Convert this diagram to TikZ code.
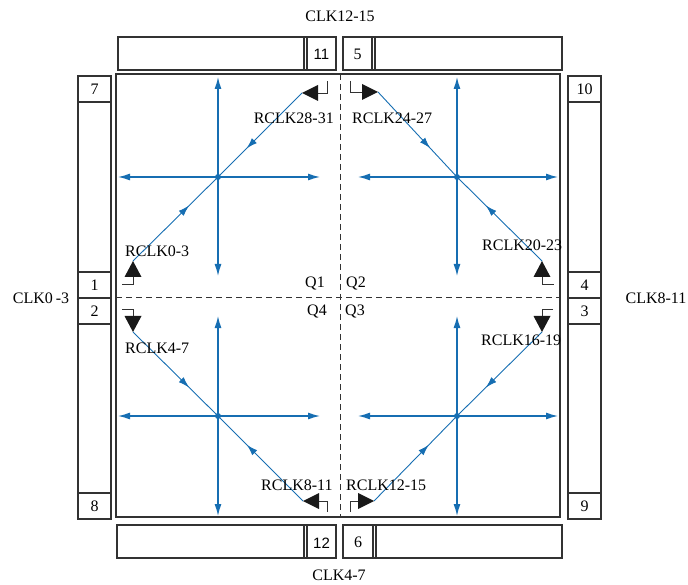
\documentclass[tikz,border=0pt]{standalone}
\usepackage{fontspec}
\setmainfont{Liberation Serif}
\newfontfamily\cellsans{Liberation Sans}
\usetikzlibrary{arrows.meta,decorations.markings}
\definecolor{clkblue}{RGB}{22,110,178}
\definecolor{framegray}{RGB}{50,50,50}
\tikzset{
  frame/.style={draw=framegray,line width=1.1pt},
  thinframe/.style={draw=framegray,line width=0.8pt},
  midline/.style={draw=framegray,line width=1pt,dash pattern=on 6pt off 4pt},
  crossline/.style={draw=clkblue,line width=1.3pt,-{Latex[length=12pt,width=7pt]}},
  diagline/.style={draw=clkblue,line width=0.9pt,
    postaction={decorate},
    decoration={markings,mark=at position 0.66 with {\arrow{Latex[length=11pt,width=7pt]}}}},
  srctri/.style={fill=black!90},
  bracket/.style={draw=framegray,line width=0.9pt},
  lbl/.style={inner sep=0pt,font=\fontsize{16}{18}\selectfont},
  numlbl/.style={inner sep=0pt,font=\fontsize{16}{18}\selectfont},
  sanslbl/.style={inner sep=0pt,font=\cellsans\fontsize{15}{18}\selectfont},
  hub/.style={circle,fill=clkblue,inner sep=0pt,minimum size=6pt}
}
\begin{document}
\begin{tikzpicture}[x=1pt,y=-1pt]
\useasboundingbox (0,0) rectangle (688,585);

% main region
\draw[frame] (116,74) rectangle (560,517);

% left and right columns
\draw[frame] (78,76) rectangle (111,519);
\foreach \yy in {102,272,298,324,493} \draw[frame] (78,\yy) -- (111,\yy);
\draw[frame] (568,76) rectangle (601,519);
\foreach \yy in {102,272,298,324,493} \draw[frame] (568,\yy) -- (601,\yy);

\node[numlbl] (n7) at (94.5,89) {7};
\node[numlbl] (n1) at (94.5,285) {1};
\node[numlbl] (n2) at (94.5,311) {2};
\node[numlbl] (n8) at (94.5,506) {8};
\node[numlbl] (n10) at (584.5,89) {10};
\node[numlbl] (n4) at (584.5,285) {4};
\node[numlbl] (n3) at (584.5,311) {3};
\node[numlbl] (n9) at (584.5,506) {9};

% top bars
\draw[frame] (118,37) rectangle (336,70);
\draw[frame] (304,37) -- (304,70);
\draw[frame] (307,37) -- (307,70);
\node[sanslbl] (n11) at (321.5,54) {11};
\draw[frame] (343,37) rectangle (562,70);
\draw[frame] (372,37) -- (372,70);
\draw[frame] (375,37) -- (375,70);
\node[numlbl] (n5) at (357.5,54) {5};

% bottom bars
\draw[frame] (117,525) rectangle (336,558);
\draw[frame] (304,525) -- (304,558);
\draw[frame] (307,525) -- (307,558);
\node[sanslbl] (n12) at (321.5,543) {12};
\draw[frame] (343,525) rectangle (562,558);
\draw[frame] (373,525) -- (373,558);
\draw[frame] (376,525) -- (376,558);
\node[numlbl] (n6) at (358,542) {6};

% dashed quadrant dividers
\draw[midline] (340,74) -- (340,517);
\draw[midline] (116,298) -- (560,298);

% quadrant labels
\node[lbl] (q1) at (315,284) {Q1};
\node[lbl] (q2) at (356,284) {Q2};
\node[lbl] (q4) at (317,312) {Q4};
\node[lbl] (q3) at (355,312) {Q3};

% outer clock labels
\node[lbl] (clktop) at (340,16) {CLK12-15};
\node[lbl] (clkbot) at (339,575) {CLK4-7};
\node[lbl] (clkleft) at (41,298) {CLK0\kern3pt-3};
\node[lbl] (clkright) at (656,298) {CLK8-11};

% hubs
\coordinate (h1) at (218,177);
\coordinate (h2) at (457,177);
\coordinate (h4) at (218,416);
\coordinate (h3) at (457,416);

% cross ends
\coordinate (h1l) at (118,177); \coordinate (h1r) at (320,177);
\coordinate (h1t) at (218,77);  \coordinate (h1b) at (218,276);
\coordinate (h2l) at (358,177); \coordinate (h2r) at (558,177);
\coordinate (h2t) at (457,77);  \coordinate (h2b) at (457,276);
\coordinate (h4l) at (118,416); \coordinate (h4r) at (320,416);
\coordinate (h4t) at (218,316); \coordinate (h4b) at (218,516);
\coordinate (h3l) at (358,416); \coordinate (h3r) at (558,416);
\coordinate (h3t) at (457,316); \coordinate (h3b) at (457,516);

\foreach \q in {1,2,3,4}{
  \foreach \e in {l,r,t,b}{
    \draw[crossline] (h\q) -- (h\q\e);
  }
}

% clock source triangles (tips named)
\coordinate (s28) at (302,93);
\fill[srctri] (s28) -- (318,85) -- (318,101) -- cycle;
\draw[bracket] (318,93) -- (327,93) -- (327,81);

\coordinate (s24) at (378,92);
\fill[srctri] (s24) -- (362,84) -- (362,100) -- cycle;
\draw[bracket] (350,81) -- (350,92) -- (362,92);

\coordinate (s0) at (133,261);
\fill[srctri] (s0) -- (124.5,277) -- (141.5,277) -- cycle;
\draw[bracket] (133,277) -- (133,284) -- (122,284);

\coordinate (s4) at (133,332);
\fill[srctri] (s4) -- (124.5,316) -- (141.5,316) -- cycle;
\draw[bracket] (122,309) -- (133,309) -- (133,316);

\coordinate (s8) at (303,501);
\fill[srctri] (s8) -- (319,493) -- (319,509) -- cycle;
\draw[bracket] (319,501) -- (327,501) -- (327,512);

\coordinate (s12) at (374,501);
\fill[srctri] (s12) -- (358,493) -- (358,509) -- cycle;
\draw[bracket] (350,512) -- (350,501) -- (358,501);

\coordinate (s16) at (542,332);
\fill[srctri] (s16) -- (533.5,316) -- (550.5,316) -- cycle;
\draw[bracket] (553,309) -- (542,309) -- (542,316);

\coordinate (s20) at (542,261);
\fill[srctri] (s20) -- (533.5,277) -- (550.5,277) -- cycle;
\draw[bracket] (542,277) -- (542,284) -- (554,284);

% diagonal feeds
\draw[diagline] (s0) -- (h1);
\draw[diagline] (s28) -- (h1);
\draw[diagline] (s24) -- (h2);
\draw[diagline] (s20) -- (h2);
\draw[diagline] (s4) -- (h4);
\draw[diagline] (s8) -- (h4);
\draw[diagline] (s12) -- (h3);
\draw[diagline] (s16) -- (h3);

% hub dots
\foreach \q in {1,2,3,4} \node[hub] (dot\q) at (h\q) {};

% RCLK labels
\node[lbl,anchor=east] (r28) at (334,118) {RCLK28-31};
\node[lbl,anchor=west] (r24) at (352,118) {RCLK24-27};
\node[lbl,anchor=west] (r0) at (125,251) {RCLK0-3};
\node[lbl,anchor=west] (r4) at (125,348) {RCLK4-7};
\node[lbl,anchor=west] (r20) at (482,245) {RCLK20-23};
\node[lbl,anchor=west] (r16) at (481,340) {RCLK16-19};
\node[lbl,anchor=west] (r8) at (261,485) {RCLK8-11};
\node[lbl,anchor=west] (r12) at (346,485) {RCLK12-15};
\end{tikzpicture}
\end{document}
